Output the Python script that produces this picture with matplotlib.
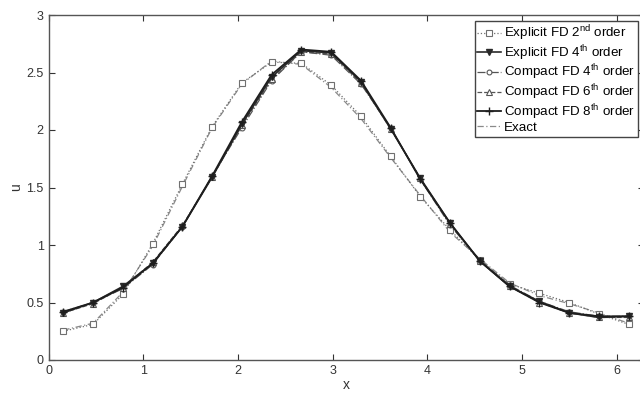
import numpy as np
import matplotlib.pyplot as plt

plt.rcParams['font.family'] = ['Liberation Sans', 'DejaVu Sans']
plt.rcParams['mathtext.fontset'] = 'custom'
plt.rcParams['mathtext.rm'] = 'Liberation Sans'

# grid points (cell centres on 0..2pi)
x = [0.157, 0.471, 0.785, 1.100, 1.414, 1.728, 2.042, 2.356, 2.670, 2.985,
     3.299, 3.613, 3.927, 4.241, 4.555, 4.869, 5.184, 5.498, 5.812, 6.126]

explicit2 = [0.25, 0.31, 0.57, 1.01, 1.53, 2.03, 2.41, 2.59, 2.58, 2.39,
             2.12, 1.77, 1.42, 1.13, 0.87, 0.66, 0.58, 0.50, 0.40, 0.31]
explicit4 = [0.41, 0.50, 0.64, 0.84, 1.16, 1.59, 2.05, 2.46, 2.69, 2.67,
             2.42, 2.01, 1.58, 1.19, 0.86, 0.64, 0.51, 0.41, 0.37, 0.38]
compact4 = [0.42, 0.50, 0.62, 0.83, 1.16, 1.60, 2.02, 2.43, 2.68, 2.65,
            2.40, 2.02, 1.57, 1.17, 0.87, 0.65, 0.51, 0.42, 0.38, 0.38]
compact6 = [0.41, 0.49, 0.63, 0.85, 1.17, 1.59, 2.04, 2.44, 2.68, 2.66,
            2.41, 2.01, 1.58, 1.18, 0.86, 0.64, 0.50, 0.41, 0.37, 0.37]
compact8 = [0.42, 0.50, 0.63, 0.84, 1.16, 1.60, 2.07, 2.48, 2.70, 2.68,
            2.43, 2.02, 1.57, 1.19, 0.86, 0.64, 0.50, 0.41, 0.38, 0.38]
exact = [0.26, 0.32, 0.59, 0.99, 1.51, 2.02, 2.40, 2.60, 2.57, 2.37,
         2.10, 1.76, 1.43, 1.11, 0.88, 0.67, 0.56, 0.49, 0.41, 0.32]

fig = plt.figure(figsize=(6.4, 3.94), dpi=100)
ax = fig.add_axes([48.5 / 640, 34 / 394, 595 / 640, 345 / 394])

ax.plot(x, exact, color='#8a8a8a', lw=0.9, ls=(0, (5, 2, 1, 2)), label='Exact', zorder=2)
ax.plot(x, explicit2, color='#707070', lw=0.9, ls=':', marker='s', ms=4.5,
        mfc='white', mec='#707070', mew=0.8, label='Explicit FD 2$^{\\rm nd}$ order', zorder=3)
ax.plot(x, compact4, color='#555555', lw=0.9, ls='-.', marker='o', ms=3.5,
        mfc='white', mec='#555555', mew=0.8, label='Compact FD 4$^{\\rm th}$ order', zorder=3)
ax.plot(x, compact6, color='#555555', lw=0.9, ls='--', marker='^', ms=4.5,
        mfc='white', mec='#555555', mew=0.8, label='Compact FD 6$^{\\rm th}$ order', zorder=3)
ax.plot(x, explicit4, color='#2a2a2a', lw=1.2, ls='-', marker='v', ms=5,
        mfc='#2a2a2a', mec='#2a2a2a', label='Explicit FD 4$^{\\rm th}$ order', zorder=4)
ax.plot(x, compact8, color='#1e1e1e', lw=1.3, ls='-', marker='+', ms=6,
        mew=1.0, label='Compact FD 8$^{\\rm th}$ order', zorder=4)

ax.set_xlim(0, 2 * np.pi)
ax.set_ylim(0, 3)
ax.set_xticks([0, 1, 2, 3, 4, 5, 6])
ax.set_yticks([0, 0.5, 1, 1.5, 2, 2.5, 3])
ax.set_yticklabels(['0', '0.5', '1', '1.5', '2', '2.5', '3'])
ax.tick_params(direction='in', top=True, right=True, labelsize=9,
               length=4, width=0.8, colors='#333333')
for s in ax.spines.values():
    s.set_color('#555555')
    s.set_linewidth(1.0)
ax.set_xlabel('x', fontsize=10, labelpad=1, color='#333333')
ax.set_ylabel('u', fontsize=10, labelpad=2, color='#333333')

handles, labels = ax.get_legend_handles_labels()
order = [1, 4, 2, 3, 5, 0]
leg = ax.legend([handles[i] for i in order], [labels[i] for i in order],
                loc='upper right', bbox_to_anchor=(638 / 640, 1 - 21 / 394),
                bbox_transform=fig.transFigure, borderaxespad=0,
                fontsize=9.6, handlelength=1.8, handletextpad=0.2,
                labelspacing=0.0, borderpad=0.2, fancybox=False,
                framealpha=1, edgecolor='#444444')
leg.get_frame().set_linewidth(1.0)

fig.savefig('out.png', dpi=100)
